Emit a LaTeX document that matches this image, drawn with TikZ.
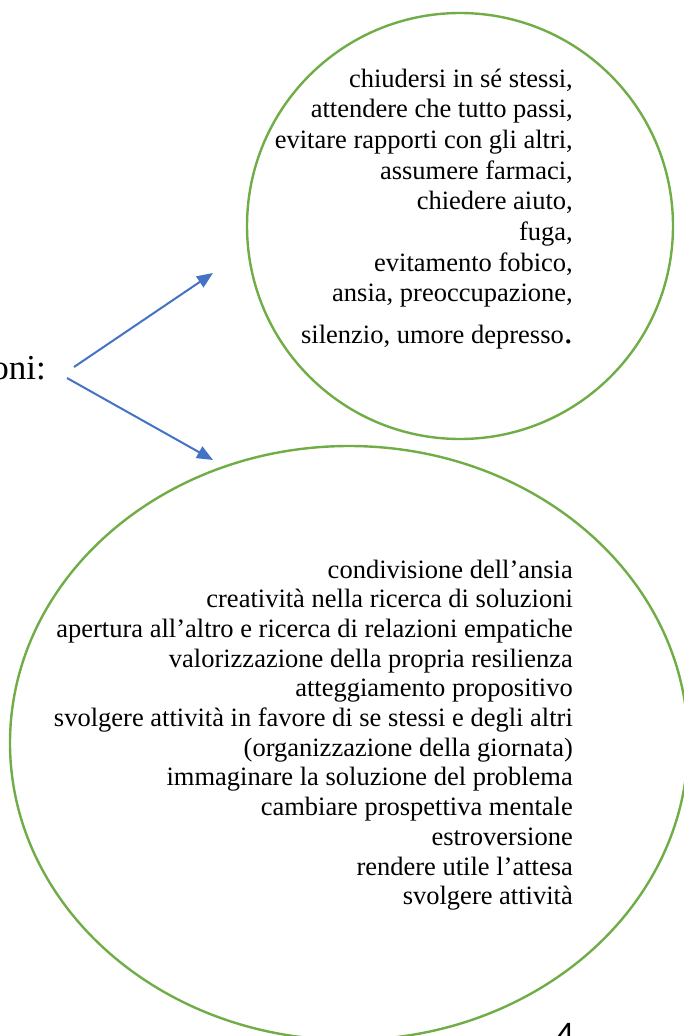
\documentclass[tikz,border=0pt]{standalone}
\usepackage{fontspec}
\setmainfont{Liberation Serif}
\newfontfamily\numfont{Carlito}
\usetikzlibrary{arrows.meta,shapes.geometric}
\definecolor{ringgreen}{HTML}{70AD47}
\definecolor{arrowblue}{HTML}{4472C4}
\tikzset{
  ring/.style={draw=ringgreen,line width=2.4pt,inner sep=0pt},
  arr/.style={draw=arrowblue,line width=2pt,-{Triangle[length=16pt,width=13pt]}},
  item/.style={anchor=base east,inner sep=0pt,font=\fontsize{26.5}{30}\selectfont}
}
\begin{document}
\begin{tikzpicture}[x=1pt,y=-1pt]
\useasboundingbox (0,0) rectangle (684,1036);
\clip (0,0) rectangle (684,1036);
% the two rings
\node[ring,circle,minimum size=426pt] (upper) at (460,226) {};
\node[ring,ellipse,minimum width=678pt,minimum height=594pt] (lower) at (349,743) {};
% cut-off heading and arrows
\node[anchor=base east,inner sep=0pt,font=\fontsize{35}{35}\selectfont] (lbl) at (46,379) {oni:};
\coordinate (from1) at (74,367);
\coordinate (from2) at (67,378);
\coordinate (tip1) at (213,273);
\coordinate (tip2) at (213,460);
\draw[arr] (from1) -- (tip1);
\draw[arr] (from2) -- (tip2);
% upper ring text
\foreach \t [count=\i] in {{chiudersi in sé stessi,},{attendere che tutto passi,},{evitare rapporti con gli altri,},{assumere farmaci,},{chiedere aiuto,},{fuga,},{evitamento fobico,},{ansia, preoccupazione,}}
  \node[item] (up\i) at (573,{87+30.7*(\i-1)}) {\t};
\node[item] (up9) at (573,343) {silenzio, umore depresso{\fontsize{36}{36}\selectfont.}};
% lower ring text
\foreach \t [count=\i] in {condivisione dell’ansia,creatività nella ricerca di soluzioni,apertura all’altro e ricerca di relazioni empatiche,valorizzazione della propria resilienza,atteggiamento propositivo,svolgere attività in favore di se stessi e degli altri,(organizzazione della giornata),immaginare la soluzione del problema,cambiare prospettiva mentale,estroversione,rendere utile l’attesa,svolgere attività}
  \node[item] (lo\i) at (573,{578+29.7*(\i-1)}) {\t};
\node[anchor=base,inner sep=0pt,font=\numfont\fontsize{36}{36}\selectfont] (pg) at (565,1046) {4};
\end{tikzpicture}
\end{document}
